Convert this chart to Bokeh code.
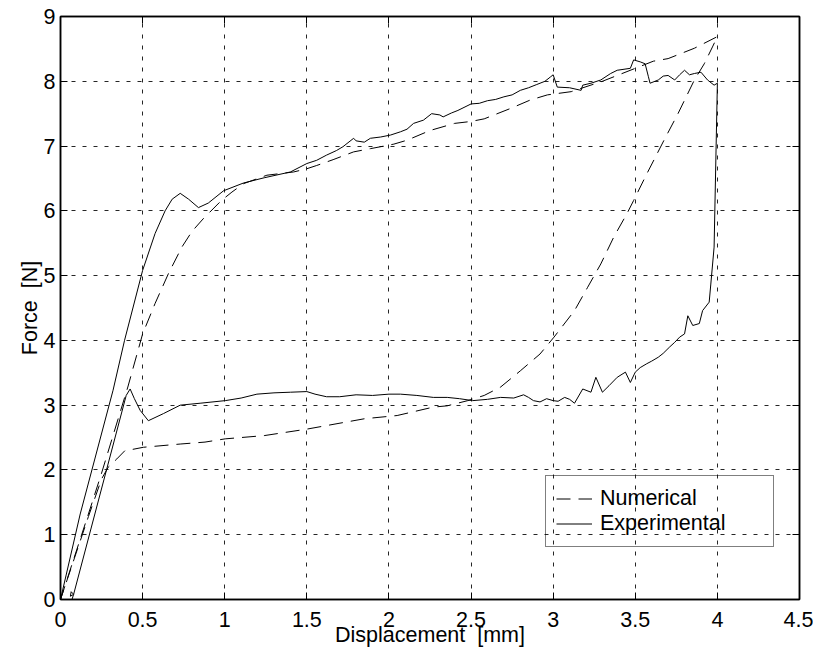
from bokeh.plotting import figure
from bokeh.models import Range1d, LinearAxis, FixedTicker, Legend, LegendItem
from bokeh.embed import file_html
from bokeh.resources import INLINE

# ---------------- data ----------------
x_ticks = [0, 0.5, 1, 1.5, 2, 2.5, 3, 3.5, 4, 4.5]
x_tick_labels = ["0", "0.5", "1", "1.5", "2", "2.5", "3", "3.5", "4", "4.5"]
y_ticks = [0, 1, 2, 3, 4, 5, 6, 7, 8, 9]
y_tick_labels = ["0", "1", "2", "3", "4", "5", "6", "7", "8", "9"]

num_x = [0.0, 0.17, 0.25, 0.41, 0.50, 0.576, 0.657, 0.739, 0.80, 0.87, 0.98, 1.044,
         1.115, 1.257, 1.42, 1.50, 1.56, 1.66, 1.785, 1.887, 1.95, 2.03, 2.11, 2.25,
         2.40, 2.50, 2.58, 2.64, 2.74, 2.86, 2.965, 3.11, 3.30, 3.50, 3.61, 3.70,
         3.78, 3.86, 4.00,
         3.97, 3.92, 3.86, 3.76, 3.675, 3.57, 3.49, 3.45, 3.37, 3.29, 3.21, 3.13,
         3.005, 2.92, 2.80, 2.68, 2.58, 2.48, 2.355, 2.27, 2.05, 1.85, 1.50, 1.24,
         1.003, 0.88, 0.729, 0.505, 0.424, 0.393, 0.343, 0.29, 0.25, 0.17, 0.0]
num_y = [0.0, 1.32, 1.95, 3.28, 4.10, 4.57, 5.03, 5.44, 5.68, 5.88, 6.16, 6.29,
         6.42, 6.55, 6.60, 6.65, 6.70, 6.79, 6.91, 6.96, 6.99, 7.03, 7.09, 7.24,
         7.35, 7.38, 7.42, 7.48, 7.58, 7.71, 7.79, 7.84, 8.00, 8.20, 8.31, 8.35,
         8.43, 8.51, 8.69,
         8.53, 8.27, 8.02, 7.50, 7.09, 6.57, 6.16, 5.96, 5.60, 5.18, 4.82, 4.46,
         4.05, 3.79, 3.53, 3.28, 3.15, 3.07, 2.99, 2.97, 2.84, 2.79, 2.63, 2.53,
         2.48, 2.43, 2.40, 2.35, 2.31, 2.30, 2.17, 2.04, 1.86, 1.28, 0.0]

exp_x = [0.0, 0.12, 0.32, 0.39, 0.50, 0.576, 0.637, 0.68, 0.729, 0.78, 0.84, 0.90,
         0.993, 1.115, 1.24, 1.40, 1.50, 1.56, 1.62, 1.68, 1.72, 1.785, 1.80, 1.85,
         1.887, 1.95, 2.01, 2.07, 2.11, 2.15, 2.21, 2.26, 2.31, 2.33, 2.38, 2.42,
         2.50, 2.55, 2.60, 2.65, 2.70, 2.75, 2.80, 2.85, 2.90, 2.95,
         2.985, 3.0, 3.025, 3.10, 3.17, 3.18, 3.23, 3.29, 3.35, 3.39, 3.47, 3.49,
         3.53, 3.56, 3.58, 3.59, 3.64, 3.67, 3.70, 3.74, 3.77, 3.80, 3.83, 3.86,
         3.90, 3.94, 3.98, 4.00,
         3.98, 3.96, 3.95, 3.91, 3.89, 3.85, 3.82, 3.80, 3.77, 3.74, 3.71, 3.67,
         3.64, 3.60, 3.57, 3.53, 3.50, 3.47, 3.44, 3.39, 3.34, 3.30, 3.26, 3.23,
         3.18, 3.13, 3.10, 3.07, 3.03, 3.00, 2.96, 2.92, 2.88, 2.85, 2.82, 2.76,
         2.68, 2.60, 2.51, 2.43, 2.355, 2.27, 2.17, 2.07, 2.00, 1.90, 1.80, 1.70,
         1.62, 1.55, 1.50, 1.40, 1.30, 1.196, 1.10, 1.003, 0.85, 0.729, 0.627,
         0.535, 0.485, 0.45, 0.424, 0.40, 0.08, 0.06, 0.065, 0.08, 0.07]
exp_y = [0.0, 1.32, 3.23, 4.00, 5.08, 5.65, 6.00, 6.18, 6.27, 6.18, 6.05, 6.12,
         6.31, 6.43, 6.51, 6.60, 6.73, 6.78, 6.86, 6.93, 6.99, 7.12, 7.08, 7.06,
         7.12, 7.14, 7.17, 7.22, 7.26, 7.35, 7.40, 7.50, 7.48, 7.45, 7.51, 7.55,
         7.65, 7.66, 7.70, 7.72, 7.76, 7.79, 7.86, 7.90, 7.95, 8.00,
         8.07, 8.10, 7.91, 7.90, 7.86, 7.94, 7.97, 8.02, 8.12, 8.17, 8.20, 8.33,
         8.30, 8.27, 8.07, 7.97, 8.02, 8.08, 8.09, 8.02, 8.10, 8.17, 8.10, 8.12,
         8.14, 8.02, 7.94, 7.97,
         5.44, 4.87, 4.59, 4.46, 4.26, 4.23, 4.38, 4.10, 4.05, 3.97, 3.90, 3.80,
         3.74, 3.68, 3.64, 3.58, 3.51, 3.35, 3.51, 3.43, 3.30, 3.20, 3.43, 3.20,
         3.25, 3.03, 3.09, 3.12, 3.06, 3.07, 3.10, 3.05, 3.07, 3.12, 3.16, 3.11,
         3.12, 3.09, 3.07, 3.10, 3.12, 3.12, 3.15, 3.17, 3.17, 3.15, 3.16, 3.13,
         3.13, 3.17, 3.21, 3.20, 3.19, 3.17, 3.11, 3.07, 3.03, 3.00, 2.87,
         2.76, 2.92, 3.10, 3.25, 3.15, 0.08, 0.05, 0.12, 0.08, 0.0]

FONT = "Liberation Sans"
FS = "21.5px"

p = figure(frame_width=739, frame_height=583,
           x_range=Range1d(0, 4.5), y_range=Range1d(0, 9),
           output_backend="svg", toolbar_location=None,
           min_border_left=60, min_border_top=16, min_border_right=14,
           min_border_bottom=50,
           x_axis_label="Displacement\u00a0\u00a0[mm]",
           y_axis_label="Force\u00a0\u00a0[N]")

p.background_fill_color = "white"
p.border_fill_color = "white"
p.outline_line_color = "black"
p.outline_line_width = 1.5

# grid
for g, ticks in ((p.xgrid, x_ticks), (p.ygrid, y_ticks)):
    g.ticker = FixedTicker(ticks=ticks)
    g.grid_line_color = "black"
    g.grid_line_alpha = 0.85
    g.grid_line_width = 1
    g.grid_line_dash = "4 7"

def style_axis(ax, ticks, labels, show_labels=True):
    ax.ticker = FixedTicker(ticks=ticks)
    ax.major_tick_in = 7
    ax.major_tick_out = 0
    ax.minor_tick_line_color = None
    ax.major_tick_line_color = "black"
    ax.major_tick_line_width = 1
    ax.axis_line_color = "black"
    ax.axis_line_width = 1.5
    ax.major_label_text_font = FONT
    ax.major_label_text_font_size = FS
    ax.axis_label_text_font = FONT
    ax.axis_label_text_font_style = "normal"
    ax.axis_label_text_font_size = FS
    ax.axis_label_text_color = "black"
    ax.major_label_text_color = "black"
    if show_labels:
        ax.major_label_overrides = {t: l for t, l in zip(ticks, labels)}
    else:
        ax.major_label_overrides = {t: "" for t in ticks}
        ax.major_label_standoff = 0

xa = p.xaxis[0]
ya = p.yaxis[0]
style_axis(xa, x_ticks, x_tick_labels)
style_axis(ya, y_ticks, y_tick_labels)
xa.major_label_standoff = 12
xa.axis_label_standoff = -7
ya.major_label_standoff = 5
ya.axis_label_standoff = -1

top = LinearAxis()
right = LinearAxis()
style_axis(top, x_ticks, x_tick_labels, show_labels=False)
style_axis(right, y_ticks, y_tick_labels, show_labels=False)
p.add_layout(top, "above")
p.add_layout(right, "right")

r_num = p.line(num_x, num_y, line_color="black", line_width=1, line_dash="14 8")
r_exp = p.line(exp_x, exp_y, line_color="black", line_width=1)

legend = Legend(items=[LegendItem(label="Numerical", renderers=[r_num]),
                       LegendItem(label="Experimental", renderers=[r_exp])],
                location=(485, 52), margin=0, padding=10, spacing=0,
                label_height=23, glyph_height=23, glyph_width=36,
                label_standoff=8, label_width=163,
                border_line_color="black", border_line_width=1.5,
                background_fill_alpha=0,
                label_text_font=FONT, label_text_font_size=FS,
                label_text_color="black")
p.add_layout(legend)

open("out.html", "w").write(file_html(p, INLINE))
